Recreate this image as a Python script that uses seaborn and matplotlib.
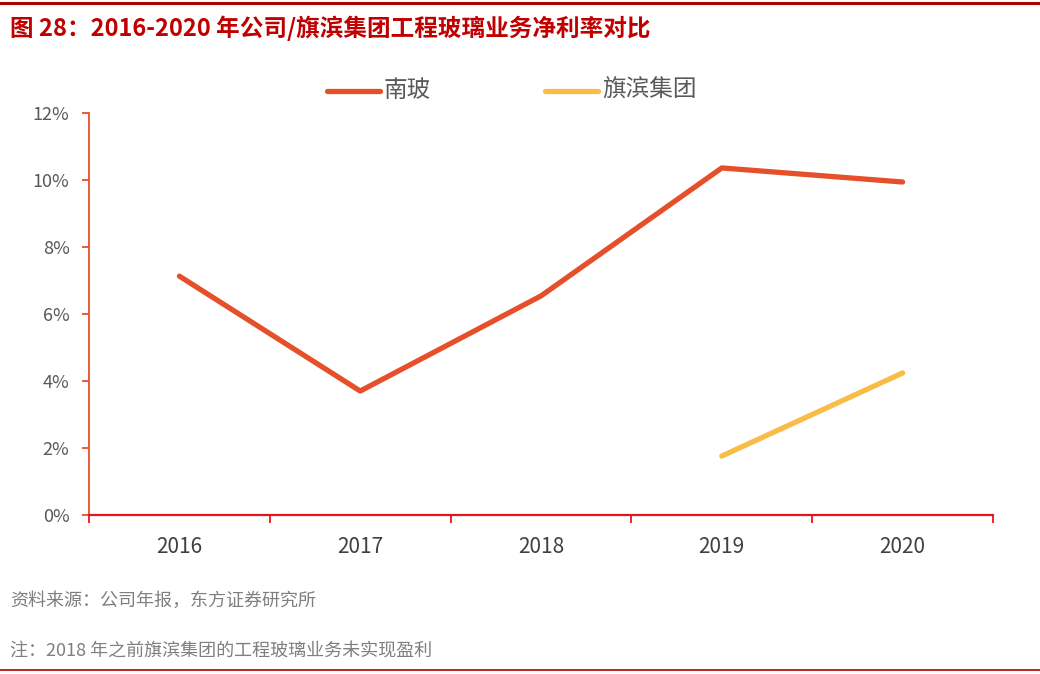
import numpy as np
import pandas as pd
import matplotlib
matplotlib.use("Agg")
import matplotlib.pyplot as plt
import seaborn as sns

# donnees (net margin, %)
years = ["2016", "2017", "2018", "2019", "2020"]
nanbo = [7.13, 3.70, 6.54, 10.36, 9.94]
qibin = [np.nan, np.nan, np.nan, 1.76, 4.24]
series_names = ["南玻", "旗滨集团"]
yticks = [0, 2, 4, 6, 8, 10, 12]

title = "图 28：2016-2020 年公司/旗滨集团工程玻璃业务净利率对比"
source = "资料来源：公司年报，东方证券研究所"
note = "注：2018 年之前旗滨集团的工程玻璃业务未实现盈利"

sns.set_style("white")
plt.rcParams['font.family'] = ['Noto Sans CJK SC', 'DejaVu Sans']

df = pd.DataFrame({
    "year": years * 2,
    "pos": list(range(len(years))) * 2,
    "val": nanbo + qibin,
    "who": [series_names[0]] * len(years) + [series_names[1]] * len(years),
})
df = df.dropna()

fig = plt.figure(figsize=(10.4, 6.74), dpi=100)
ax = fig.add_axes([89 / 1040, 1 - 515 / 674, (993 - 89) / 1040, (515 - 113) / 674])

pal = {series_names[0]: "#E5502A", series_names[1]: "#F8BD47"}
sns.lineplot(data=df, x="pos", y="val", hue="who", palette=pal, linewidth=3.8,
             ax=ax, legend=False, solid_capstyle="round")

ax.set_xlim(-0.5, len(years) - 0.5)
ax.set_ylim(0, 12)
ax.set_yticks(yticks)
ax.set_yticklabels([f"{t}%" for t in yticks], color="#595959", fontsize=13)
ax.set_xticks(np.arange(-0.5, len(years), 1.0))
ax.set_xticklabels([])
for i, y in enumerate(years):
    ax.text(i, -0.62, y, ha="center", va="top", fontsize=15, color="#404040")
ax.set_xlabel("")
ax.set_ylabel("")

for s in ["top", "right"]:
    ax.spines[s].set_visible(False)
ax.spines["left"].set_color("#E5502A")
ax.spines["left"].set_linewidth(1.3)
ax.spines["bottom"].set_color("#E8141B")
ax.spines["bottom"].set_linewidth(1.6)
ax.tick_params(axis="y", direction="out", length=5, width=1.3, color="#E5502A", pad=9, left=True)
ax.tick_params(axis="x", direction="out", length=6, width=1.3, color="#E8141B", bottom=True)

# legende faite a la main en haut
for x0, name in [(327, series_names[0]), (545, series_names[1])]:
    fig.add_artist(plt.Line2D([x0 / 1040, (x0 + 53) / 1040], [1 - 91 / 674] * 2,
                              color=pal[name], linewidth=3.8, solid_capstyle="round"))
    fig.text((x0 + 57) / 1040, 1 - 90 / 674, name, ha="left", va="center",
             fontsize=17, color="#595959")

fig.text(10 / 1040, 1 - 28 / 674, title, ha="left", va="center", fontsize=17,
         color="#C00000", fontweight="bold")
fig.text(10 / 1040, 1 - 601 / 674, source, ha="left", va="center", fontsize=13, color="#7F7F7F")
fig.text(10 / 1040, 1 - 651 / 674, note, ha="left", va="center", fontsize=13, color="#7F7F7F")

fig.add_artist(plt.Line2D([0, 1], [1 - 3 / 674] * 2, color="#B00000", linewidth=2.2))
fig.add_artist(plt.Line2D([0, 1], [1 - 670 / 674] * 2, color="#B00000", linewidth=1.2))

fig.savefig("out.png", dpi=100)
